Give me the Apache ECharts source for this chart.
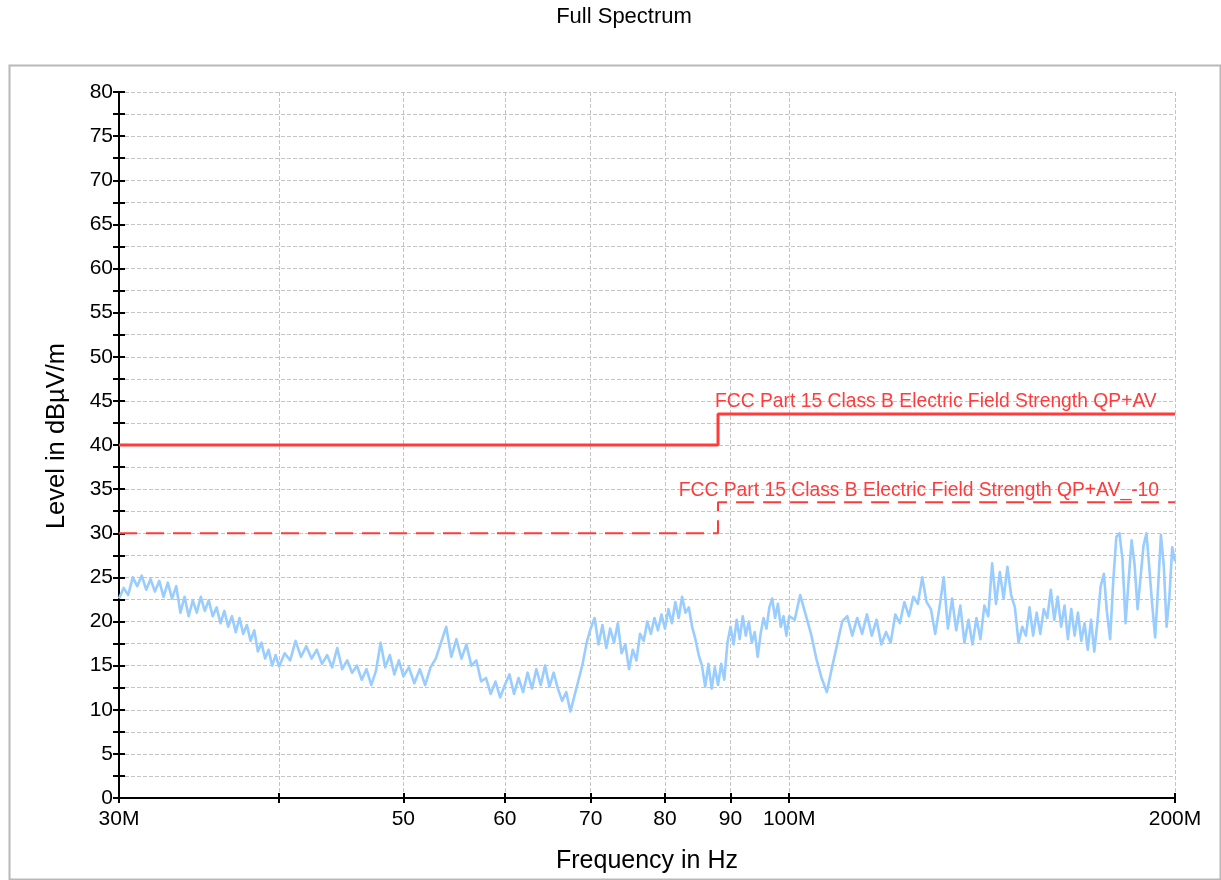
<!DOCTYPE html>
<html>
<head>
<meta charset="utf-8">
<script src="https://cdn.jsdelivr.net/npm/echarts@6/dist/echarts.min.js"></script>
<style>
html,body{margin:0;padding:0;background:#fff;}
#chart{width:1221px;height:880px;}
</style>
</head>
<body>
<div id="chart"></div>
<script>
// ---- Data (frequency in MHz, level in dBµV/m) ----
const xTickValues = [30, 40, 50, 60, 70, 80, 90, 100, 200];
const xLabelValues = [30, 50, 60, 70, 80, 90, 100, 200];
const xLabelTexts = {30: '30M', 50: '50', 60: '60', 70: '70', 80: '80', 90: '90', 100: '100M', 200: '200M'};

const limitName = 'FCC Part 15 Class B Electric Field Strength QP+AV';
const limitMarginName = 'FCC Part 15 Class B Electric Field Strength QP+AV_-10';
const limitQpAv = [[30, 40], [88, 40], [88, 43.5], [200, 43.5]];
const limitQpAvMinus10 = [[30, 30], [88, 30], [88, 33.5], [200, 33.5]];

const spectrum30to50 = [
  [30.00,22.6],[30.25,23.8],[30.50,23.0],[30.75,25.0],[31.00,24.0],[31.25,25.2],[31.50,23.6],[31.75,24.8],
  [32.00,23.4],[32.25,24.6],[32.50,22.8],[32.75,24.4],[33.00,22.6],[33.25,24.0],[33.50,21.0],[33.75,22.8],
  [34.00,20.6],[34.25,22.4],[34.50,21.0],[34.75,22.8],[35.00,21.2],[35.25,22.4],[35.50,20.6],[35.75,21.6],
  [36.00,19.8],[36.25,21.2],[36.50,19.4],[36.75,20.6],[37.00,18.8],[37.25,20.4],[37.50,18.6],[37.75,19.6],
  [38.00,17.8],[38.25,19.0],[38.50,16.6],[38.75,17.6],[39.00,15.8],[39.25,16.8],[39.50,15.0],[39.75,16.2],
  [40.00,14.9],[40.4,16.4],[40.8,15.6],[41.2,17.8],[41.6,16.0],[42.0,17.2],[42.4,15.8],[42.8,16.8],
  [43.2,15.2],[43.6,16.2],[44.0,14.8],[44.4,17.0],[44.8,14.6],[45.2,15.6],[45.6,14.2],[46.0,15.0],
  [46.4,13.4],[46.8,14.6],[47.2,12.8],[47.6,14.4],[48.0,17.6],[48.4,14.8],[48.8,16.2],[49.2,14.0],
  [49.6,15.6],[50.0,13.8]
];
const spectrum50to100 = [
  [50.5,14.8],[51.0,13.0],[51.5,14.6],[52.0,12.8],[52.5,14.8],[53.0,15.8],[53.5,17.6],[54.0,19.4],
  [54.5,16.0],[55.0,18.0],[55.5,15.8],[56.0,17.4],[56.5,15.0],[57.0,15.6],[57.5,13.2],[58.0,13.6],
  [58.5,11.8],[59.0,13.2],[59.5,11.4],[60.0,12.8],[60.5,14.0],[61.0,11.8],[61.5,13.6],[62.0,12.0],
  [62.5,14.2],[63.0,12.4],[63.5,14.6],[64.0,12.8],[64.5,15.0],[65.0,12.6],[65.5,14.2],[66.0,12.4],
  [66.5,11.0],[67.0,12.0],[67.5,9.8],[68.0,11.6],[68.5,13.4],[69.0,15.2],[69.5,17.6],[70.0,19.2],
  [70.5,20.4],[71.0,17.4],[71.5,19.6],[72.0,17.0],[72.5,19.2],[73.0,17.6],[73.5,19.8],[74.0,16.4],
  [74.5,17.4],[75.0,14.6],[75.5,16.8],[76.0,15.6],[76.5,18.6],[77.0,17.8],[77.5,20.0],[78.0,18.6],
  [78.5,20.4],[79.0,19.0],[79.5,20.8],[80.0,19.2],[80.5,21.4],[81.0,19.8],[81.5,22.2],[82.0,20.4],
  [82.5,22.8],[83.0,21.0],[83.5,21.6],[84.0,19.4],[84.5,18.0],[85.0,16.2],[85.5,15.0],[86.0,12.6],
  [86.5,15.2],[87.0,12.4],[87.5,14.8],[88.0,12.8],[88.5,15.2],[89.0,13.4],[89.5,17.6],[90.0,19.4],
  [90.5,17.4],[91.0,20.2],[91.5,18.0],[92.0,20.6],[92.5,18.4],[93.0,20.0],[93.5,17.6],[94.0,18.8],
  [94.5,16.0],[95.0,18.6],[95.5,20.4],[96.0,19.2],[96.5,21.6],[97.0,22.6],[97.5,20.4],[98.0,22.0],
  [98.5,19.4],[99.0,20.6],[99.5,18.4],[100.0,20.6]
];
const spectrum100to200 = [
  [101,20.2],[102,23.0],[103,20.8],[104,18.6],[105,15.8],[106,13.6],[107,12.0],[108,14.8],
  [109,17.4],[110,20.0],[111,20.6],[112,18.4],[113,20.4],[114,18.6],[115,20.8],[116,18.4],
  [117,20.2],[118,17.4],[119,18.8],[120,17.6],[121,20.8],[122,19.8],[123,22.2],[124,20.6],
  [125,22.8],[126,22.0],[127,25.0],[128,22.2],[129,21.4],[130,18.6],[131,21.6],[132,25.0],
  [133,19.2],[134,22.6],[135,19.0],[136,21.8],[137,17.6],[138,20.2],[139,17.4],[140,20.4],
  [141,18.0],[142,21.8],[143,20.6],[144,26.6],[145,22.0],[146,25.6],[147,22.6],[148,26.2],
  [149,23.0],[150,21.6],[151,17.6],[152,19.4],[153,18.4],[154,21.6],[155,18.4],[156,21.0],
  [157,18.6],[158,21.4],[159,20.4],[160,23.6],[161,20.2],[162,22.8],[163,19.4],[164,21.8],
  [165,18.0],[166,21.4],[167,18.4],[168,21.0],[169,17.8],[170,19.8],[171,16.8],[172,20.2],
  [173,16.6],[174,20.0],[175,24.0],[176,25.4],[177,21.0],[178,18.0],[179,24.6],[180,29.6],
  [181,30.0],[182,27.0],[183,19.8],[184,24.6],[185,29.2],[186,26.4],[187,21.4],[188,25.0],
  [189,28.6],[190,30.0],[191,26.0],[192,21.8],[193,18.2],[194,23.8],[195,29.8],[196,26.4],
  [197,19.4],[198,22.8],[199,28.4],[200,26.8]
];
const spectrum = spectrum30to50.concat(spectrum50to100, spectrum100to200);

// ---- Styles ----
const FONT = '"Liberation Sans", Arial, sans-serif';
const RED = '#ff3b3b';
const TRACE = '#99ccff';
const GRIDC = '#c4c4c4';

const chart = echarts.init(document.getElementById('chart'), null, {renderer: 'canvas'});
chart.setOption({
  animation: false,
  backgroundColor: '#fff',
  title: {
    text: 'Full Spectrum',
    left: 624, top: 6, padding: 0, textAlign: 'center',
    textStyle: {fontFamily: FONT, fontSize: 22, fontWeight: 'normal', color: '#000'}
  },
  graphic: [{
    type: 'rect', left: 7, top: 63, z: -10, silent: true,
    shape: {width: 1211, height: 814},
    style: {fill: 'none', stroke: '#b8b8b8', lineWidth: 2}
  }],
  grid: {left: 119, right: 46, top: 92, bottom: 82, containLabel: false},
  xAxis: [{
    type: 'log', logBase: 10, min: 30, max: 200,
    name: 'Frequency in Hz', nameLocation: 'middle', nameGap: 51,
    nameTextStyle: {fontFamily: FONT, fontSize: 25, color: '#000'},
    axisLine: {show: true, onZero: false, lineStyle: {color: '#000', width: 2}},
    axisTick: {show: true, length: 5, customValues: xTickValues, lineStyle: {color: '#000', width: 2}},
    axisLabel: {
      customValues: xLabelValues, margin: 11,
      fontFamily: FONT, fontSize: 21, color: '#000',
      formatter: v => xLabelTexts[Math.round(v)] || ''
    },
    splitLine: {show: true, lineStyle: {color: GRIDC, type: [4, 2], width: 1}},
    minorTick: {show: false}, minorSplitLine: {show: false}
  }, {
    type: 'log', logBase: 10, min: 30, max: 200, position: 'bottom',
    axisLine: {show: false},
    axisTick: {show: true, inside: true, length: 5, customValues: xTickValues, lineStyle: {color: '#000', width: 2}},
    axisLabel: {show: false},
    splitLine: {show: false}
  }],
  yAxis: [{
    type: 'value', min: 0, max: 80, interval: 2.5,
    name: 'Level in dBµV/m', nameLocation: 'middle', nameGap: 49,
    nameTextStyle: {fontFamily: FONT, fontSize: 25.5, color: '#000', padding: [0, 0, 0, 18]},
    axisLine: {show: true, onZero: false, lineStyle: {color: '#000', width: 2}},
    axisTick: {show: true, length: 6, lineStyle: {color: '#000', width: 2}},
    axisLabel: {
      margin: 6, fontFamily: FONT, fontSize: 21, color: '#000',
      formatter: v => (Math.abs(v % 5) < 1e-6 ? String(v) : '')
    },
    splitLine: {show: true, lineStyle: {color: GRIDC, type: [4, 2], width: 1}}
  }, {
    type: 'value', min: 0, max: 80, interval: 2.5, position: 'left',
    axisLine: {show: false},
    axisTick: {show: true, inside: true, length: 6, lineStyle: {color: '#000', width: 2}},
    axisLabel: {show: false},
    splitLine: {show: false}
  }],
  series: [{
    name: 'Spectrum', type: 'line', data: spectrum,
    showSymbol: false, symbol: 'none', z: 3,
    lineStyle: {color: TRACE, width: 2.6, join: 'round'}
  }, {
    name: limitName, type: 'line', data: limitQpAv,
    showSymbol: false, symbol: 'none', z: 4,
    lineStyle: {color: RED, width: 3},
    markPoint: {
      symbol: 'circle', symbolSize: 0, silent: true,
      data: [{coord: [88, 43.5], value: limitName}],
      label: {
        show: true, position: 'right', distance: 0, offset: [-3, -12],
        formatter: limitName, color: RED, fontFamily: FONT, fontSize: 19.3
      }
    }
  }, {
    name: limitMarginName, type: 'line', data: limitQpAvMinus10,
    showSymbol: false, symbol: 'none', z: 4,
    lineStyle: {color: RED, width: 2, type: [18, 9]},
    markPoint: {
      symbol: 'circle', symbolSize: 0, silent: true,
      data: [{coord: [200, 33.5], value: limitMarginName}],
      label: {
        show: true, position: 'left', distance: 0, offset: [-16, -12],
        formatter: limitMarginName, color: RED, fontFamily: FONT, fontSize: 19.3
      }
    }
  }]
});
</script>
</body>
</html>
